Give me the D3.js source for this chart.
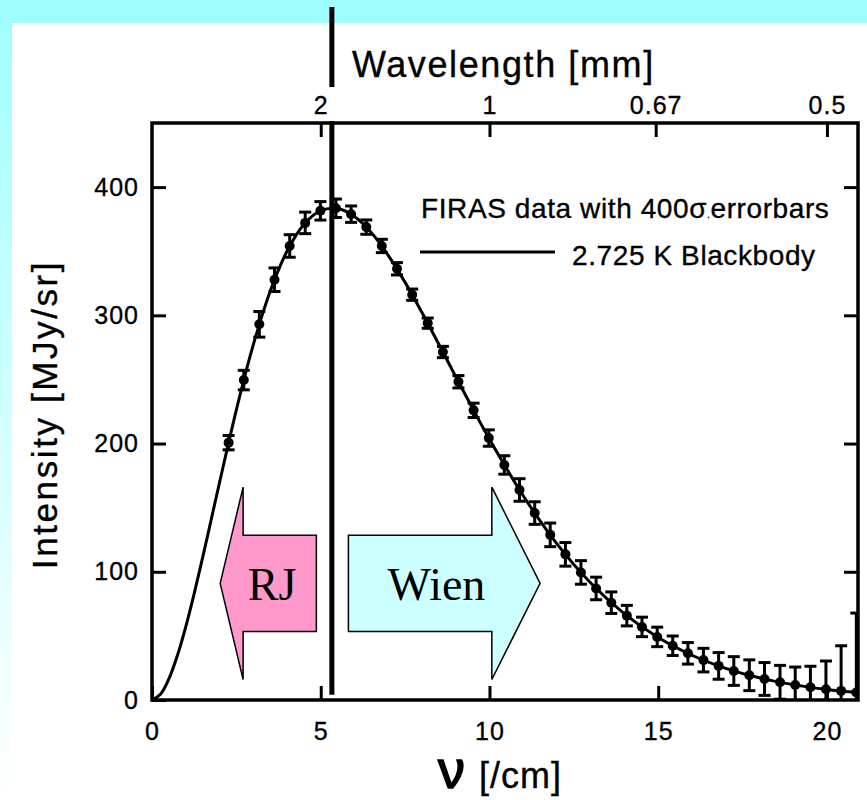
<!DOCTYPE html>
<html>
<head>
<meta charset="utf-8">
<script src="https://cdn.jsdelivr.net/npm/d3@7"></script>
<style>
  html, body { margin: 0; padding: 0; }
  text { font-family: "Liberation Sans", Arial, sans-serif; fill: #000; stroke: #000; stroke-width: 0.35px; }
</style>
</head>
<body>
<svg id="chart" width="867" height="800"></svg>
<script>
// FIRAS spectrum (nu in 1/cm, intensity in MJy/sr)
const firasNu = [2.27, 2.72, 3.18, 3.63, 4.08, 4.54, 4.99, 5.45, 5.90, 6.35, 6.81, 7.26, 7.71, 8.17,
  8.62, 9.08, 9.53, 9.98, 10.44, 10.89, 11.34, 11.80, 12.25, 12.71, 13.16, 13.61, 14.07, 14.52,
  14.97, 15.43, 15.88, 16.34, 16.79, 17.24, 17.70, 18.15, 18.61, 19.06, 19.51, 19.97, 20.42, 20.87];
const firasI = [200.7, 249.5, 293.0, 327.8, 354.1, 372.1, 381.5, 383.5, 378.9, 368.8, 354.1, 336.3,
  316.1, 293.9, 271.4, 248.2, 225.9, 204.3, 183.3, 163.8, 145.8, 128.8, 113.6, 99.5, 87.0, 75.9,
  65.8, 57.0, 49.2, 42.3, 36.4, 31.1, 26.6, 22.6, 19.3, 16.4, 13.8, 11.7, 9.9, 8.4, 7.1, 5.8];
// half length of the 400 sigma error bars
const firasErr = [5.6, 7.6, 10.0, 9.2, 8.8, 8.4, 7.2, 7.2, 6.4, 5.6, 5.2, 4.8, 4.4, 4.0, 4.4, 4.8,
  5.6, 6.4, 7.2, 8.8, 8.8, 9.2, 9.2, 9.2, 8.8, 8.4, 8.0, 7.6, 7.6, 7.6, 8.4, 9.2, 10.4, 11.2, 12.0,
  12.8, 13.2, 14.0, 16.4, 22.0, 35.2, 62.0];

// 2.725 K blackbody line, sampled points
const bbNu = [0, 0.25, 0.5, 0.75, 1, 1.25, 1.5, 1.75, 2, 2.5, 3, 3.5, 4, 4.5, 5, 5.5, 6, 6.5, 7,
  7.5, 8, 8.5, 9, 9.5, 10, 11, 12, 13, 14, 15, 16, 17, 18, 19, 20, 21];
const bbI = [0, 4.4, 16.4, 34.5, 57.1, 83.0, 111.0, 140.2, 169.5, 226.3, 276.9, 318.6, 350.0,
  370.9, 381.6, 383.3, 377.1, 364.5, 346.8, 325.7, 302.2, 277.4, 252.2, 227.4, 203.4, 159.3,
  121.8, 91.3, 67.2, 48.7, 34.9, 24.7, 17.3, 12.0, 8.2, 5.6];

// ticks
const nuTicks = [0, 5, 10, 15, 20];
const intensityTicks = [0, 100, 200, 300, 400];
const wavelengthTicks = ['2', '1', '0.67', '0.5'];   // mm

// nu where the peak marker line sits
const peakMarkNu = 5.33;

const svg = d3.select('#chart');
const W = 867, H = 800;

// background: cyan fading to white, with a white panel
const defs = svg.append('defs');
const grad = defs.append('linearGradient').attr('id', 'bg').attr('x1', 0).attr('y1', 0).attr('x2', 0).attr('y2', 1);
grad.append('stop').attr('offset', '0%').attr('stop-color', '#9ffefe');
grad.append('stop').attr('offset', '100%').attr('stop-color', '#ffffff');
svg.append('rect').attr('width', W).attr('height', H).attr('fill', 'url(#bg)');
svg.append('rect').attr('x', 12).attr('y', 23).attr('width', W - 12).attr('height', H - 23).attr('fill', '#fff');

const x = d3.scaleLinear().domain([0, 20.92]).range([152, 858]);
const y = d3.scaleLinear().domain([0, 450]).range([700, 123]);

defs.append('clipPath').attr('id', 'plot')
  .append('rect')
  .attr('x', x.range()[0]).attr('y', y.range()[1])
  .attr('width', x.range()[1] - x.range()[0])
  .attr('height', y.range()[0] - y.range()[1]);

// axes, ticks pointing inward
const tickFont = (g) => g.selectAll('text')
  .style('font-size', '25px').style('letter-spacing', '1px')
  .style('font-family', '"Liberation Sans", Arial, sans-serif');
const axisStyle = (g) => {
  g.select('.domain').remove();
  g.selectAll('.tick line').attr('stroke', '#000').attr('stroke-width', 3);
};

svg.append('g')
  .attr('transform', `translate(0,${y(0)})`)
  .call(d3.axisBottom(x).tickValues(nuTicks).tickSizeInner(-14).tickSizeOuter(0).tickPadding(22))
  .call(axisStyle).call(tickFont);

svg.append('g')
  .attr('transform', `translate(${x(0)},0)`)
  .call(d3.axisLeft(y).tickValues(intensityTicks).tickSizeInner(-14).tickSizeOuter(0).tickPadding(13))
  .call(axisStyle).call(tickFont);

svg.append('g')
  .attr('transform', `translate(${x.range()[1]},0)`)
  .call(d3.axisRight(y).tickValues(intensityTicks.slice(1)).tickSizeInner(-14).tickSizeOuter(0).tickFormat(''))
  .call(axisStyle);

// wavelength axis: lambda [mm] = 10 / nu [1/cm]
svg.append('g')
  .attr('transform', `translate(0,${y.range()[1]})`)
  .call(d3.axisTop(x)
    .tickValues(wavelengthTicks.map((l) => 10 / +l))
    .tickFormat((d, i) => wavelengthTicks[i])
    .tickSizeInner(-14).tickSizeOuter(0).tickPadding(9))
  .call(axisStyle).call(tickFont);

// frame
svg.append('rect')
  .attr('x', x.range()[0]).attr('y', y.range()[1])
  .attr('width', x.range()[1] - x.range()[0])
  .attr('height', y.range()[0] - y.range()[1])
  .attr('fill', 'none').attr('stroke', '#000').attr('stroke-width', 3.5);

// blackbody line
const plot = svg.append('g').attr('clip-path', 'url(#plot)');
const line = d3.line()
  .x((d, i) => x(bbNu[i]))
  .y((d) => y(d))
  .curve(d3.curveCatmullRom);
plot.append('path')
  .datum(bbI)
  .attr('d', line)
  .attr('fill', 'none').attr('stroke', '#000').attr('stroke-width', 3);

// data points with error bars
const pts = firasNu.map((nu, i) => ({ nu, v: firasI[i], e: firasErr[i] }));
const eb = plot.selectAll('.eb').data(pts).join('g').attr('class', 'eb')
  .attr('stroke', '#000').attr('stroke-width', 3);
eb.append('line')
  .attr('x1', (d) => x(d.nu)).attr('x2', (d) => x(d.nu))
  .attr('y1', (d) => y(d.v - d.e)).attr('y2', (d) => y(d.v + d.e));
eb.append('line')
  .attr('x1', (d) => x(d.nu) - 6).attr('x2', (d) => x(d.nu) + 6)
  .attr('y1', (d) => y(d.v + d.e)).attr('y2', (d) => y(d.v + d.e));
eb.append('line')
  .attr('x1', (d) => x(d.nu) - 6).attr('x2', (d) => x(d.nu) + 6)
  .attr('y1', (d) => y(d.v - d.e)).attr('y2', (d) => y(d.v - d.e));
plot.selectAll('.pt').data(pts).join('circle').attr('class', 'pt')
  .attr('cx', (d) => x(d.nu)).attr('cy', (d) => y(d.v)).attr('r', 5).attr('fill', '#000');

// RJ / Wien arrows (positions in data units)
const arrowY = 91;        // centre line
const shaftHalf = 37.5;   // half height of the shaft
const headHalf = 75;      // half height of the head
const arrowPath = (tip, base, tail) => {
  const pts = [
    [tip, arrowY], [base, arrowY + headHalf], [base, arrowY + shaftHalf], [tail, arrowY + shaftHalf],
    [tail, arrowY - shaftHalf], [base, arrowY - shaftHalf], [base, arrowY - headHalf]
  ];
  return 'M' + pts.map((p) => `${x(p[0])},${y(p[1])}`).join('L') + 'Z';
};
svg.append('path').attr('d', arrowPath(2.02, 2.7, 4.87))
  .attr('fill', '#ff99cc').attr('stroke', '#000').attr('stroke-width', 1.5);
svg.append('path').attr('d', arrowPath(11.5, 10.07, 5.82))
  .attr('fill', '#ccffff').attr('stroke', '#000').attr('stroke-width', 1.5);
svg.append('text').attr('x', x(3.56)).attr('y', y(78)).attr('text-anchor', 'middle')
  .style('font-family', '"Liberation Serif", "Times New Roman", serif').style('font-size', '46px')
  .style('stroke-width', 0)
  .text('RJ');
svg.append('text').attr('x', x(8.43)).attr('y', y(78)).attr('text-anchor', 'middle')
  .style('font-family', '"Liberation Serif", "Times New Roman", serif').style('font-size', '46px')
  .style('stroke-width', 0)
  .text('Wien');

// thick marker line near the peak, broken behind the "2" label
svg.append('line').attr('x1', x(peakMarkNu)).attr('x2', x(peakMarkNu))
  .attr('y1', 7).attr('y2', 87).attr('stroke', '#000').attr('stroke-width', 5);
svg.append('line').attr('x1', x(peakMarkNu)).attr('x2', x(peakMarkNu))
  .attr('y1', y.range()[1] - 2).attr('y2', y(4)).attr('stroke', '#000').attr('stroke-width', 5);

// axis titles
svg.append('text').attr('x', 352).attr('y', 77)
  .style('font-size', '36px').style('letter-spacing', '1.6px')
  .text('Wavelength [mm]');
svg.append('text')
  .attr('transform', `translate(57,${(y.range()[0] + y.range()[1]) / 2 + 3}) rotate(-90)`)
  .attr('text-anchor', 'middle')
  .style('font-size', '35px').style('letter-spacing', '2.6px')
  .text('Intensity [MJy/sr]');
const xt = svg.append('text').attr('x', 438).attr('y', 788);
xt.append('tspan').style('font-size', '54px').style('stroke-width', '1.5px').text('ν');
xt.append('tspan').attr('dx', 14).style('font-size', '36px').style('letter-spacing', '1px').text('[/cm]');

// legend
const leg = svg.append('text').attr('x', 421).attr('y', 218)
  .style('font-size', '28px').style('letter-spacing', '0.6px');
leg.append('tspan').text('FIRAS data with 400σ');
leg.append('tspan').style('font-size', '10px').text('.');
leg.append('tspan').text('errorbars');
svg.append('line').attr('x1', 420).attr('x2', 555).attr('y1', 252).attr('y2', 252)
  .attr('stroke', '#000').attr('stroke-width', 3);
svg.append('text').attr('x', 572).attr('y', 265)
  .style('font-size', '28px').style('letter-spacing', '0.6px')
  .text('2.725 K Blackbody');
</script>
</body>
</html>
